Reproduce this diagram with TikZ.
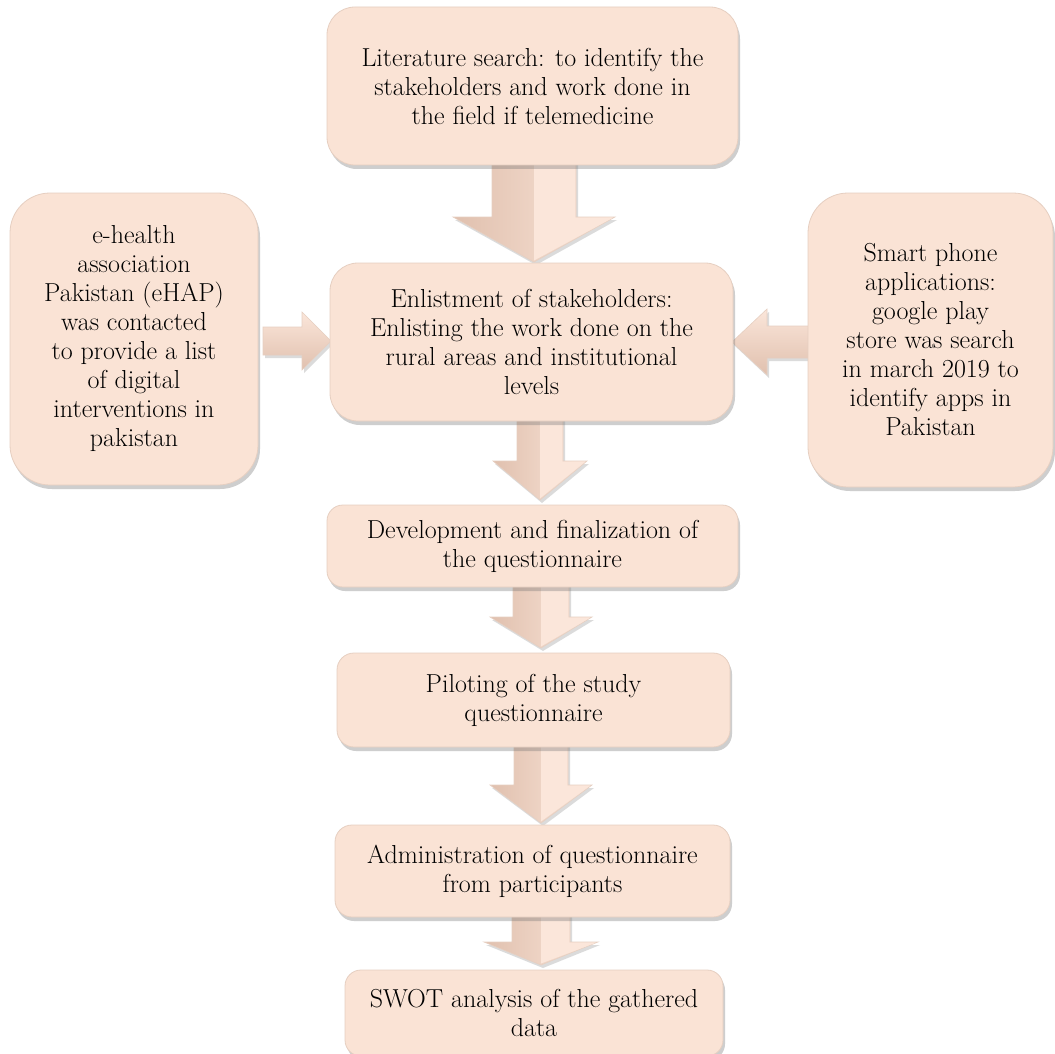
\documentclass[tikz,border=0pt]{standalone}
\usetikzlibrary{shadows}
\definecolor{boxfill}{HTML}{FAE3D5}
\definecolor{boxedge}{HTML}{E6CFC1}
\definecolor{arrdark}{HTML}{E0C0AE}
\definecolor{arrlight}{HTML}{FBE6DA}
\tikzset{
  box/.style={draw=boxedge, line width=0.8pt, fill=boxfill, align=center, inner sep=0pt,
    font=\fontsize{26}{29}\selectfont,
    drop shadow={shadow xshift=2pt, shadow yshift=-4pt, opacity=0.35, fill=black!55}},
  vblock/.style={draw=boxedge, line width=0.6pt, left color=arrdark, right color=arrlight,
    drop shadow={shadow xshift=2pt, shadow yshift=-3pt, opacity=0.25, fill=black!55}},
  hblock/.style={draw=boxedge, line width=0.6pt, top color=arrlight, bottom color=arrdark,
    drop shadow={shadow xshift=2pt, shadow yshift=-3pt, opacity=0.25, fill=black!55}},
  lighthalf/.style={fill=arrlight},
}
% down block arrow: centre x, shaft top, head base, tip, half shaft, half head
\newcommand\downblock[6]{%
  \path[vblock] ({#1-#5},#2) -- ({#1+#5},#2) -- ({#1+#5},#3) -- ({#1+#6},#3) -- (#1,#4) -- ({#1-#6},#3) -- ({#1-#5},#3) -- cycle;
  \path[lighthalf] (#1,{#2+0.6}) -- ({#1+#5-0.6},{#2+0.6}) -- ({#1+#5-0.6},{#3+0.6}) -- ({#1+#6-2},{#3+0.6}) -- (#1,{#4-1.5}) -- cycle;}
% horizontal block arrow: centre y, shaft start x, head base x, tip x, half shaft, half head
\newcommand\sideblock[6]{\path[hblock] (#2,{#1-#5}) -- (#3,{#1-#5}) -- (#3,{#1-#6}) -- (#4,#1) -- (#3,{#1+#6}) -- (#3,{#1+#5}) -- (#2,{#1+#5}) -- cycle;}
\begin{document}
\begin{tikzpicture}[x=1pt,y=-1pt]
\useasboundingbox (0,0) rectangle (1055,1054);
\clip (0,0) rectangle (1055,1054);
\fill[white] (0,0) rectangle (1055,1054);

% block arrows (drawn first, boxes sit over their ends)
\downblock{534}{160}{217}{262}{42}{81}
\downblock{540}{418}{461}{500}{23}{47}
\downblock{541}{584}{617}{648}{28}{51}
\downblock{541}{744}{785}{823}{27}{51}
\downblock{541}{914}{942}{965}{29}{57}
\sideblock{341}{263}{302}{331}{14}{29}
\sideblock{342}{810}{767}{732}{16}{33}

% boxes
\node[box, minimum width=411, minimum height=158, rounded corners=28] (lit) at (532.5,86)
  {Literature search: to identify the\\stakeholders and work done in\\the field if telemedicine};
\node[box, minimum width=248, minimum height=292, rounded corners=40] (ehap) at (134,339)
  {e-health\\association\\Pakistan (eHAP)\\was contacted\\to provide a list\\of digital\\interventions in\\pakistan};
\node[box, minimum width=245, minimum height=294, rounded corners=40] (apps) at (930.5,340)
  {Smart phone\\applications:\\google play\\store was search\\in march 2019 to\\identify apps in\\Pakistan};
\node[box, minimum width=403, minimum height=158, rounded corners=28] (enl) at (531.5,342)
  {Enlistment of stakeholders:\\Enlisting the work done on the\\rural areas and institutional\\levels};
\node[box, minimum width=411, minimum height=82, rounded corners=16] (dev) at (532.5,546)
  {Development and finalization of\\the questionnaire};
\node[box, minimum width=393, minimum height=94, rounded corners=17] (pilot) at (533.5,700)
  {Piloting of the study\\questionnaire};
\node[box, minimum width=395, minimum height=92, rounded corners=17] (admin) at (532.5,871)
  {Administration of questionnaire\\from participants};
\node[box, minimum width=378, minimum height=86, rounded corners=16] (swot) at (534,1013)
  {SWOT analysis of the gathered\\data};
\end{tikzpicture}
\end{document}
